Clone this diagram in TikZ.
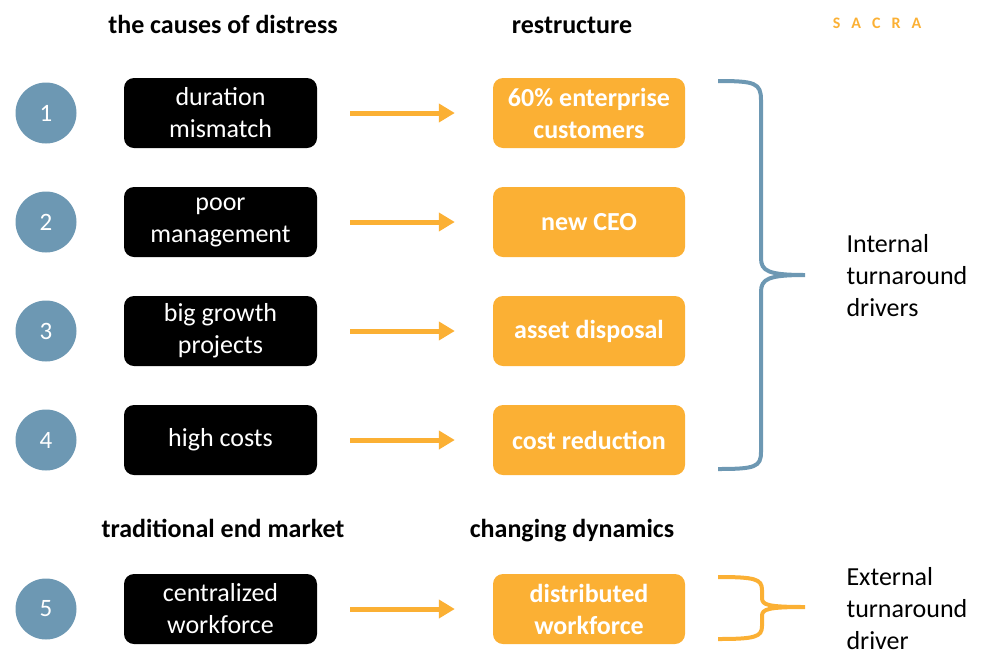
\documentclass[tikz,border=0pt]{standalone}
\usepackage{fontspec}
\setmainfont{Carlito}
\usetikzlibrary{arrows.meta}
\definecolor{cblue}{HTML}{6D98B3}
\definecolor{corange}{HTML}{FBB034}
\begin{document}
\begin{tikzpicture}[x=1pt,y=-1pt,
  num/.style={circle,fill=cblue,minimum size=61pt,inner sep=0pt,text=white,font=\fontsize{25}{28}\selectfont},
  cause/.style={rounded corners=10pt,fill=black,text=white,minimum width=193pt,minimum height=70pt,align=center,inner sep=0pt,font=\fontsize{26}{32}\selectfont},
  fix/.style={rounded corners=10pt,fill=corange,text=white,minimum width=192pt,minimum height=70pt,align=center,inner sep=0pt,font=\fontsize{26}{32}\selectfont\bfseries},
  head/.style={font=\fontsize{26}{30}\selectfont\bfseries,anchor=base},
  side/.style={align=left,anchor=west,font=\fontsize{26}{32}\selectfont},
  flow/.style={corange,line width=5pt,-{Triangle[length=16pt,width=18pt]}},
  brace/.style={line width=4pt}
]
\useasboundingbox (0,0) rectangle (982,662);
\node[head] (h1) at (223,33) {the causes of distress};
\node[head] (h2) at (572,33) {restructure};
\node[anchor=base,text=corange,font=\fontsize{16}{18}\selectfont\bfseries] (logo) at (877,28) {S\hspace{11pt}A\hspace{11pt}C\hspace{11pt}R\hspace{11pt}A};
\node[head] (h3) at (223,537) {traditional end market};
\node[head] (h4) at (572,537) {changing dynamics};

\foreach \i/\y/\a/\b in {1/113/{duration\\mismatch}/{60\% enterprise\\customers},
                          2/222/{poor\\management}/{new CEO},
                          3/331/{big growth\\projects}/{asset disposal},
                          4/440/{high costs}/{cost reduction},
                          5/609/{centralized\\workforce}/{distributed\\workforce}}{
  \node[num] (n\i) at (46,\y) {\i};
  \node[cause] (c\i) at (220.5,\y) {\a};
  \node[fix] (f\i) at (589,\y) {\b};
  \draw[flow] ([xshift=33pt]c\i.east) -- ([xshift=-38pt]f\i.west);
}

\coordinate (bt) at (718,81);
\coordinate (bm) at (805,275);
\coordinate (bb) at (718,469);
\draw[brace,cblue] (bt) .. controls (755,81) and (761,83) .. (761,100) -- (761,258)
  .. controls (761,271) and (768,275) .. (bm)
  .. controls (768,275) and (761,279) .. (761,292) -- (761,452)
  .. controls (761,467) and (755,469) .. (bb);
\node[side] (int) at (843,276) {Internal\\turnaround\\drivers};

\coordinate (ot) at (718,577);
\coordinate (om) at (805,607);
\coordinate (ob) at (718,639);
\draw[brace,corange] (ot) .. controls (755,577) and (762,579) .. (762,590) -- (762,598)
  .. controls (762,605) and (768,607) .. (om)
  .. controls (768,607) and (762,609) .. (762,616) -- (762,626)
  .. controls (762,637) and (755,639) .. (ob);
\node[side] (ext) at (843,609) {External\\turnaround\\driver};
\end{tikzpicture}
\end{document}
